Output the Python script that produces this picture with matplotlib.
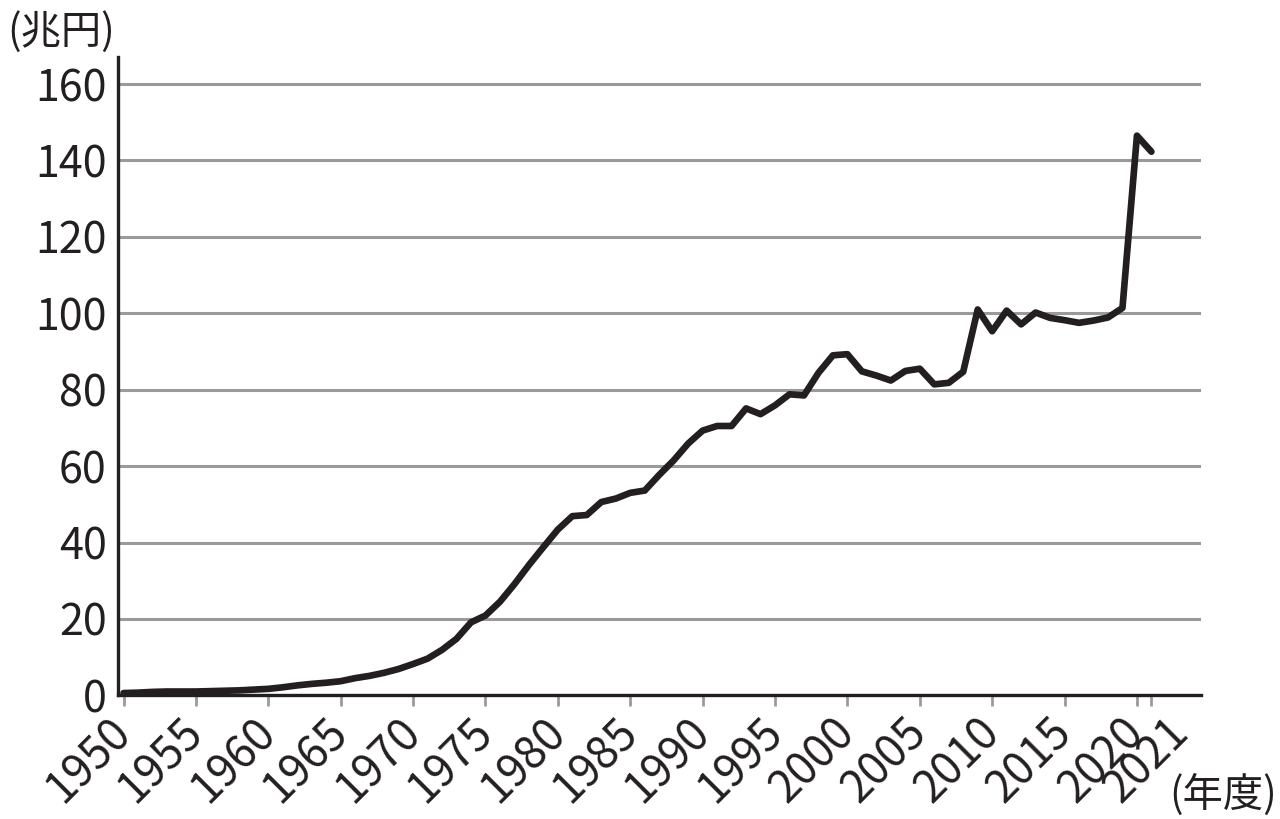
import matplotlib
matplotlib.use("Agg")
import matplotlib.pyplot as plt
import matplotlib.transforms as mtransforms

plt.rcParams['font.family'] = ['Noto Sans CJK JP', 'DejaVu Sans']

# fiscal years and values (trillion yen)
years = list(range(1950, 2022))
values = [
    0.6, 0.7, 0.9, 1.0, 1.0, 1.0, 1.1, 1.2, 1.3, 1.5,        # 1950-1959
    1.7, 2.1, 2.6, 3.0, 3.3, 3.7, 4.5, 5.1, 5.9, 6.9,        # 1960-1969
    8.2, 9.6, 11.9, 14.8, 19.1, 20.9, 24.5, 29.1, 34.1, 38.8,  # 1970-1979
    43.4, 46.9, 47.2, 50.6, 51.5, 53.0, 53.6, 57.7, 61.5, 65.9,  # 1980-1989
    69.3, 70.5, 70.5, 75.1, 73.6, 75.9, 78.8, 78.5, 84.4, 89.0,  # 1990-1999
    89.3, 84.8, 83.7, 82.4, 84.9, 85.5, 81.4, 81.8, 84.7, 101.0,  # 2000-2009
    95.3, 100.7, 97.1, 100.2, 98.8, 98.2, 97.5, 98.1, 98.9, 101.4,  # 2010-2019
    146.5, 142.3,                                               # 2020-2021
]

x_ticks = [1950, 1955, 1960, 1965, 1970, 1975, 1980, 1985, 1990,
           1995, 2000, 2005, 2010, 2015, 2020, 2021]
y_ticks = [0, 20, 40, 60, 80, 100, 120, 140, 160]

fig = plt.figure(figsize=(12.8, 8.19), dpi=100)
ax = fig.add_axes([0.092, 0.151, 0.846, 0.779])

ax.plot(years, values, color='#231f20', linewidth=4.8,
        solid_joinstyle='round', solid_capstyle='round', zorder=3)

ax.set_xlim(1949.6, 2024.4)
ax.set_ylim(0, 167)

ax.set_yticks(y_ticks)
ax.set_yticklabels([str(v) for v in y_ticks], fontsize=31, color='#231f20')
ax.set_xticks(x_ticks)
ax.set_xticklabels([str(v) for v in x_ticks], fontsize=32, color='#231f20',
                   rotation=45, ha='right', va='center', rotation_mode='anchor')

ax.grid(axis='y', color='#9a9a9a', linewidth=2.2)
ax.set_axisbelow(True)

ax.tick_params(axis='y', length=0, pad=8)
ax.tick_params(axis='x', length=8, width=2, color='#9a9a9a', pad=14)

for side in ['top', 'right']:
    ax.spines[side].set_visible(False)
for side in ['left', 'bottom']:
    ax.spines[side].set_linewidth(2.4)
    ax.spines[side].set_color('#231f20')

# nudge the crowded last label apart like the original
labels = ax.get_xticklabels()
labels[-1].set_transform(labels[-1].get_transform() +
                         mtransforms.ScaledTranslation(0.3, 0, fig.dpi_scale_trans))

fig.text(0.006, 0.987, '(兆円)', fontsize=29, ha='left', va='top', color='#231f20')
fig.text(0.998, 0.004, '(年度)', fontsize=29, ha='right', va='bottom', color='#231f20')

fig.savefig('out.png', dpi=100, facecolor='white')
